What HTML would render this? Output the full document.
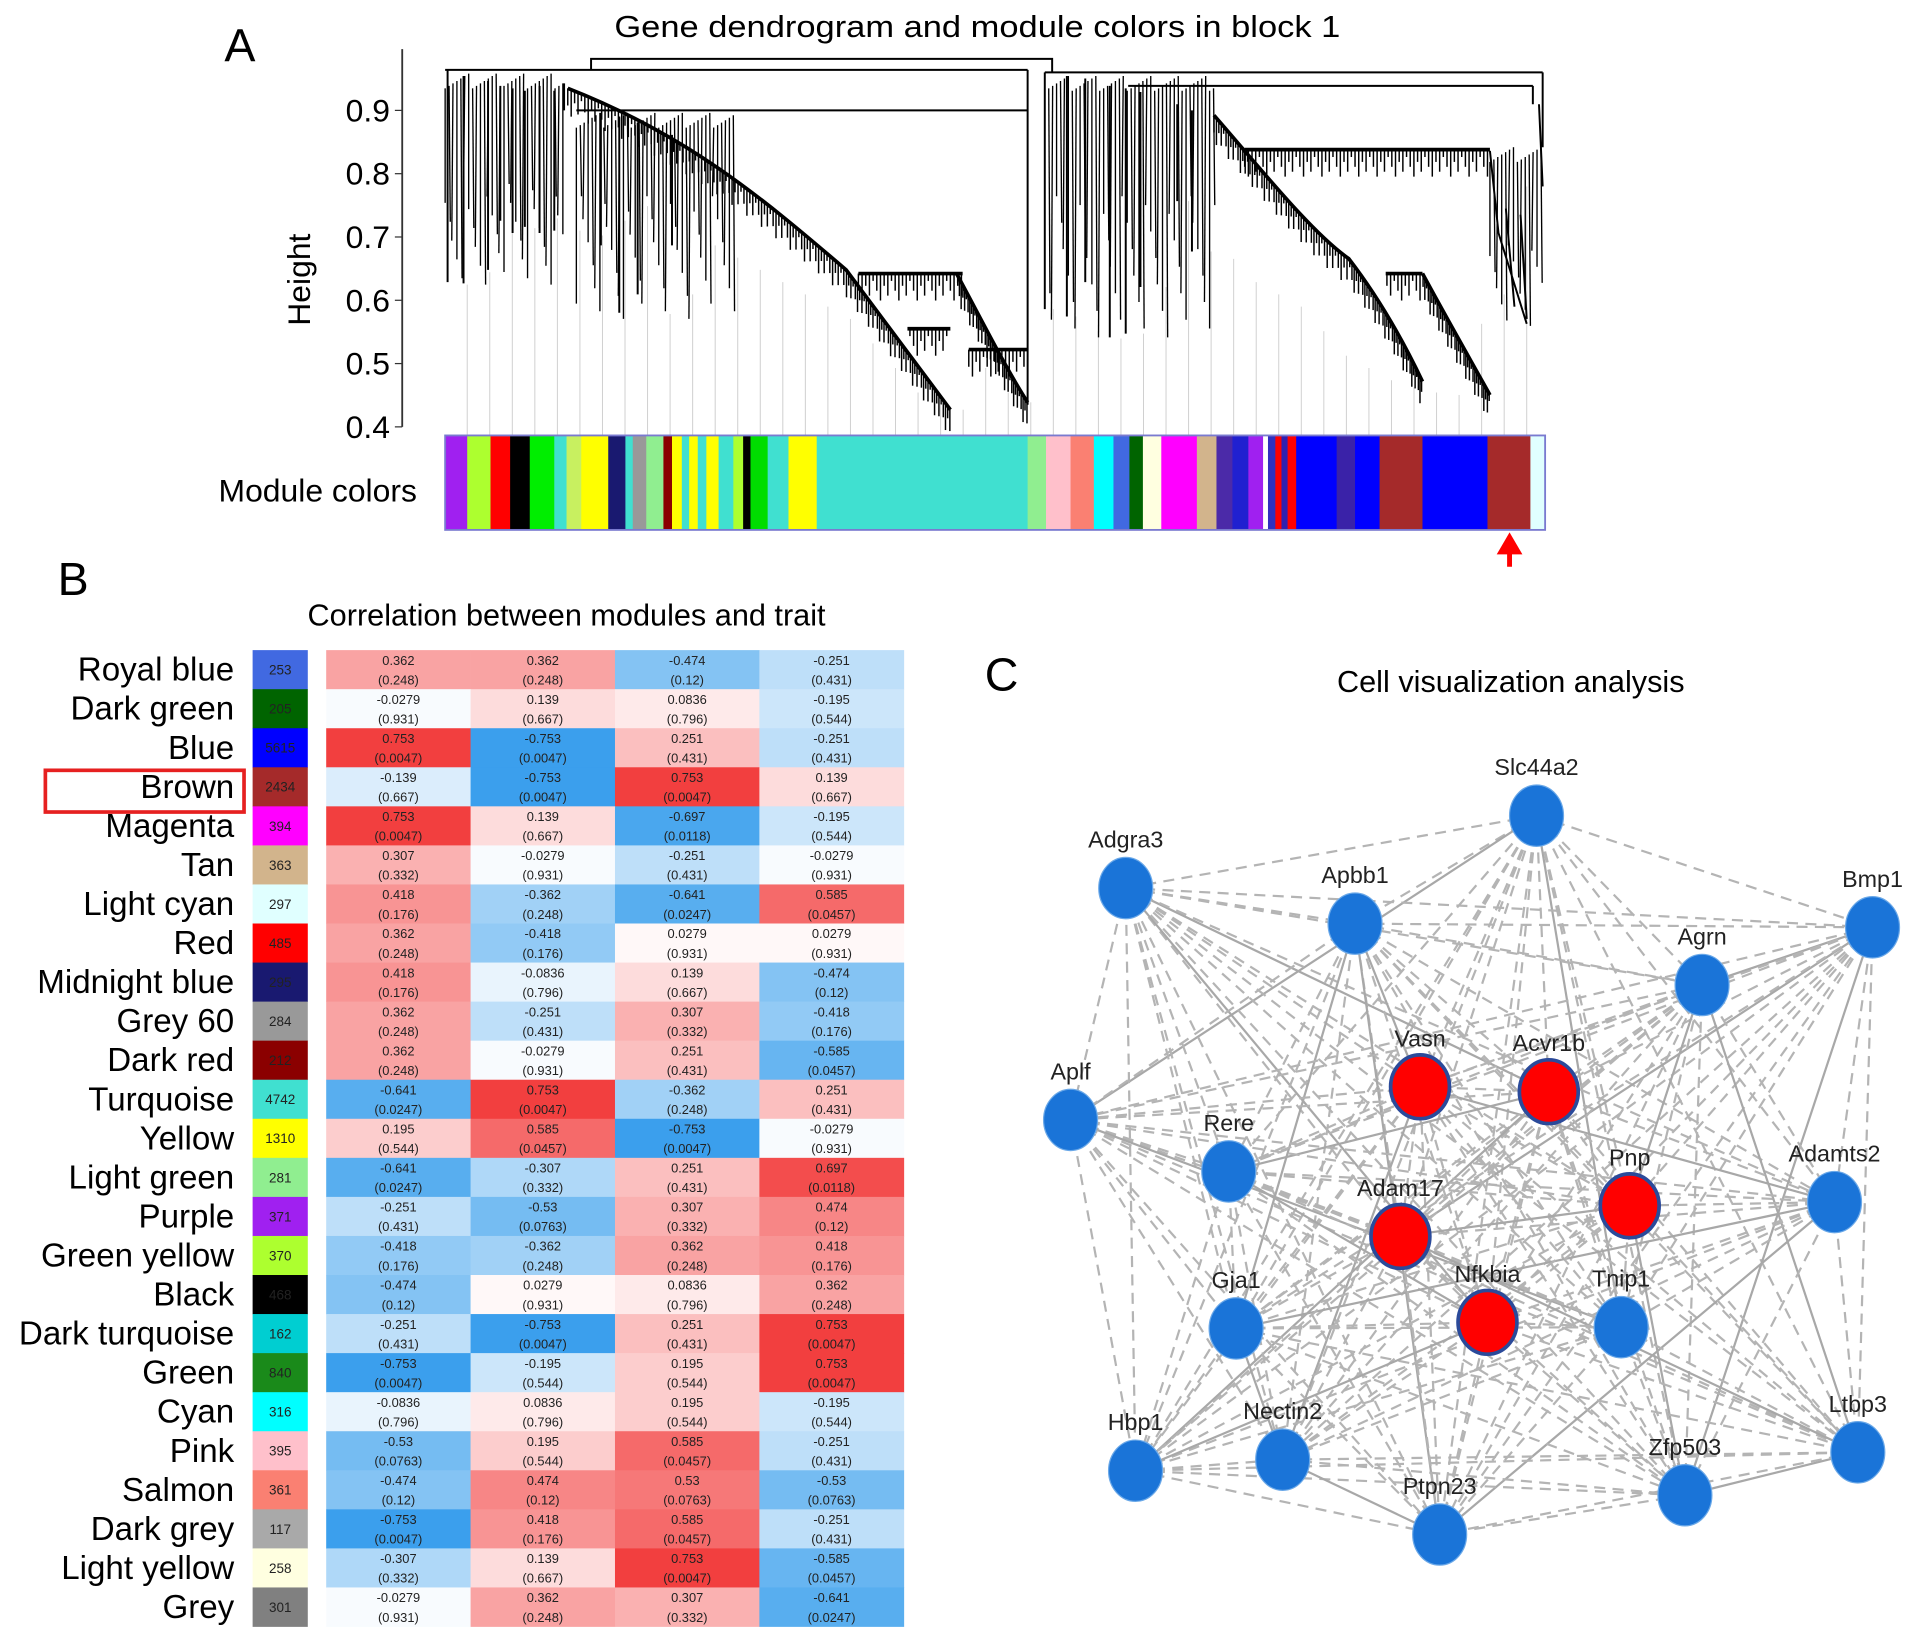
<!DOCTYPE html>
<html><head><meta charset="utf-8"><style>
html,body{margin:0;padding:0;background:#fff;}
svg{display:block;font-family:"Liberation Sans",sans-serif;}
</style></head><body>
<svg id="fig" xmlns="http://www.w3.org/2000/svg" width="1913" height="1640" viewBox="0 0 1560 1337" preserveAspectRatio="none">
<rect width="1560" height="1337" fill="#fff"/>
<text x="183" y="50" font-size="38">A</text>
<text x="797" y="30" font-size="25" text-anchor="middle" textLength="592" lengthAdjust="spacingAndGlyphs">Gene dendrogram and module colors in block 1</text>
<text x="0" y="0" font-size="26" text-anchor="middle" transform="translate(253,228) rotate(-90)">Height</text>
<text x="340" y="409" font-size="26" text-anchor="end">Module colors</text>
<g id="dendro"></g>
<g id="colorbar"></g>
<path d="M1231 462 L1231 448 M1224 450 L1231 438 L1238 450 Z" stroke="#f00" stroke-width="4" fill="#f00"/>
<text x="47" y="485" font-size="38">B</text>
<text x="462" y="510" font-size="25" text-anchor="middle">Correlation between modules and trait</text>
<g id="heat"></g>
<rect x="37" y="628" width="162" height="34" fill="none" stroke="#e62020" stroke-width="3"/>
<text x="803" y="563" font-size="38">C</text>
<text x="1232" y="564" font-size="25" text-anchor="middle">Cell visualization analysis</text>
<g id="net"></g>
</svg>
<script>
const NS='http://www.w3.org/2000/svg';
function mk(tag,parent){const e=document.createElementNS(NS,tag);parent.appendChild(e);return e;}

// ---------- Panel A data ----------
const heightTicks=[0.4,0.5,0.6,0.7,0.8,0.9];
const barSegColors=['#a020f0','#adff2f','#ff0000','#000000','#00ee00','#40e0d0','#c8f060','#ffff00','#191970','#40e0d0','#999999','#90ee90','#8b0000','#ffff00','#40e0d0','#ffff00','#40e0d0','#ffff00','#40e0d0','#adff2f','#000000','#00dd00','#40e0d0','#ffff00','#40e0d0','#90ee90','#ffc0cb','#fa8072','#00ffff','#4169e1','#006400','#ffffe0','#ff00ff','#d2b48c','#4b2aa8','#2020d0','#a020f0','#ffffff','#3030c0','#ff0000','#3020b0','#ff0000','#0000ff','#3a22a8','#0000ff','#a52a2a','#0000ff','#a52a2a','#e0ffff'];
const barSegEnds=[381,400,416,432,452,462,474,496,510,516,527,541,548,556,562,569,576,586,598,606,612,626,643,666,838,853,873,892,908,921,932,947,976,992,1005,1018,1030,1034,1040,1045,1050,1057,1090,1105,1125,1160,1213,1248,1260];
const leafTops=[232,222,190,186,178,188,192,180,168,256,240,200,210,220,230,240,250,260,280,300,320,330,334,300,320,328,252,258,270,276,272,234,164,205,211,230,240,250,270,290,300,310,316,320,322,264,240,152];
// dense strand clusters: [xStart, xEnd, top, bottom-min, bottom-max]
const strandClusters=[[363,462,60,150,232],[470,600,92,160,260],[852,992,62,160,275],[1215,1258,120,200,270]];

const yH=v=>348-(v-0.4)*516;
const dG=document.getElementById('dendro');
let ax=mk('line',dG);ax.setAttribute('x1',328);ax.setAttribute('x2',328);ax.setAttribute('y1',40);ax.setAttribute('y2',348);ax.setAttribute('stroke','#333');ax.setAttribute('stroke-width',1.5);


heightTicks.forEach(v=>{
 const t=mk('line',dG);t.setAttribute('x1',322);t.setAttribute('x2',328);t.setAttribute('y1',yH(v));t.setAttribute('y2',yH(v));t.setAttribute('stroke','#333');
 
 
 const l=mk('text',dG);l.setAttribute('x',318);l.setAttribute('y',yH(v)+9);l.setAttribute('font-size',26);l.setAttribute('text-anchor','end');l.textContent=v.toFixed(1);
 
 
});
leafTops.forEach((top,i)=>{
 const x=381+i*(1245-381)/(leafTops.length-1);
 const l=mk('line',dG);l.setAttribute('x1',x);l.setAttribute('x2',x);l.setAttribute('y1',top);l.setAttribute('y2',355);l.setAttribute('stroke','#cfcfcf');l.setAttribute('stroke-width',0.8);
 
 
});
// dense strands
strandClusters.forEach((c,ci)=>{
 let k=0;
 for(let x=c[0];x<=c[1];x+=3.2){
  k++;
  const frac=((k*37+ci*11)%17)/16;
  const bot=c[3]+frac*(c[4]-c[3]);
  const top=c[2]+((k*13)%7)*2;
  const l=mk('line',dG);l.setAttribute('x1',x);l.setAttribute('x2',x+((k%3)-1));l.setAttribute('y1',top);l.setAttribute('y2',bot);l.setAttribute('stroke','#000');l.setAttribute('stroke-width',1.1);
  
  
 }
});
const branchPaths=[
 'M482 57 L482 48 L858 48 L858 59',
 'M363 57 L838 57 M852 59 L1258 59',
 'M365 57 L365 230 M378 62 L378 231 M398 66 L398 220 M408 70 L408 180 M418 72 L418 190 M428 74 L428 185 M440 70 L440 190 M452 74 L452 188 M460 68 L460 90',
 'M470 90 L838 90 M838 57 L838 330 M490 92 L490 200 M505 95 L505 255 M520 100 L520 240 M548 110 L548 200',
 'M463 72 C560 110 620 160 690 220 C720 260 750 300 775 334',
 'M700 223 L785 223 M780 223 C800 260 820 300 838 328 M740 268 L775 268 M790 285 L838 285',
 'M852 59 L852 252 M870 62 L870 258 M885 64 L885 230 M905 70 L905 275 M918 72 L918 272 M920 70 L1250 70 M930 75 L930 234 M960 85 L960 164 M972 90 L972 205',
 'M990 94 C1030 140 1070 190 1100 211 C1130 250 1150 290 1160 311',
 'M1015 122 L1215 122 M1130 223 L1160 223 M1160 223 C1180 260 1200 295 1215 322',
 'M1215 123 L1222 190 L1245 264 M1228 170 L1235 250 M1240 175 L1245 260 M1250 70 L1250 85 M1255 85 L1258 152 M1258 59 L1258 120'
];
const ramps=[4,5,7,8];
branchPaths.forEach((d,i)=>{
 const p=mk('path',dG);p.setAttribute('d',d);p.setAttribute('fill','none');p.setAttribute('stroke','#000');p.setAttribute('stroke-width',ramps.includes(i)?3:1.6);
 
 
 if(ramps.includes(i)){
  const L=p.getTotalLength();let k=0;
  for(let s=0;s<L;s+=3){
   k++;
   const pt=p.getPointAtLength(s);
   if(pt.y<60)continue;
   const len=6+((k*7)%5)*4;
   const f=mk('line',dG);f.setAttribute('x1',pt.x);f.setAttribute('x2',pt.x);f.setAttribute('y1',pt.y);f.setAttribute('y2',pt.y+len);f.setAttribute('stroke','#000');f.setAttribute('stroke-width',1.2);
   
   
  }
 }
});
const cb=document.getElementById('colorbar');
let prev=363;
barSegColors.forEach((c,i)=>{
 const r=mk('rect',cb);r.setAttribute('x',prev);r.setAttribute('y',355);r.setAttribute('width',barSegEnds[i]-prev+0.5);r.setAttribute('height',77);r.setAttribute('fill',c);
 
 
 prev=barSegEnds[i];
});
const cbo=mk('rect',cb);cbo.setAttribute('x',363);cbo.setAttribute('y',355);cbo.setAttribute('width',897);cbo.setAttribute('height',77);cbo.setAttribute('fill','none');cbo.setAttribute('stroke','#7a7ad0');cbo.setAttribute('stroke-width',1.5);



// ---------- Panel B data ----------
const moduleNames=['Royal blue','Dark green','Blue','Brown','Magenta','Tan','Light cyan','Red','Midnight blue','Grey 60','Dark red','Turquoise','Yellow','Light green','Purple','Green yellow','Black','Dark turquoise','Green','Cyan','Pink','Salmon','Dark grey','Light yellow','Grey'];
const moduleColors=['#4169e1','#006400','#0000ff','#a52a2a','#ff00ff','#d2b48c','#e0ffff','#ff0000','#191970','#999999','#8b0000','#40e0d0','#ffff00','#90ee90','#a020f0','#adff2f','#000000','#00ced1','#1a8a1a','#00ffff','#ffc0cb','#fa8072','#a9a9a9','#ffffe0','#808080'];
const moduleSizes=['253','205','5615','2434','394','363','297','485','295','284','212','4742','1310','281','371','370','468','162','840','316','395','361','117','258','301'];
const corrCol1=[0.362,-0.0279,0.753,-0.139,0.753,0.307,0.418,0.362,0.418,0.362,0.362,-0.641,0.195,-0.641,-0.251,-0.418,-0.474,-0.251,-0.753,-0.0836,-0.53,-0.474,-0.753,-0.307,-0.0279];
const corrCol2=[0.362,0.139,-0.753,-0.753,0.139,-0.0279,-0.362,-0.418,-0.0836,-0.251,-0.0279,0.753,0.585,-0.307,-0.53,-0.362,0.0279,-0.753,-0.195,0.0836,0.195,0.474,0.418,0.139,0.362];
const corrCol3=[-0.474,0.0836,0.251,0.753,-0.697,-0.251,-0.641,0.0279,0.139,0.307,0.251,-0.362,-0.753,0.251,0.307,0.362,0.0836,0.251,0.195,0.195,0.585,0.53,0.585,0.753,0.307];
const corrCol4=[-0.251,-0.195,-0.251,0.139,-0.195,-0.0279,0.585,0.0279,-0.474,-0.418,-0.585,0.251,-0.0279,0.697,0.474,0.418,0.362,0.753,0.753,-0.195,-0.251,-0.53,-0.251,-0.585,-0.641];
const pvalCol1=['0.248','0.931','0.0047','0.667','0.0047','0.332','0.176','0.248','0.176','0.248','0.248','0.0247','0.544','0.0247','0.431','0.176','0.12','0.431','0.0047','0.796','0.0763','0.12','0.0047','0.332','0.931'];
const pvalCol2=['0.248','0.667','0.0047','0.0047','0.667','0.931','0.248','0.176','0.796','0.431','0.931','0.0047','0.0457','0.332','0.0763','0.248','0.931','0.0047','0.544','0.796','0.544','0.12','0.176','0.667','0.248'];
const pvalCol3=['0.12','0.796','0.431','0.0047','0.0118','0.431','0.0247','0.931','0.667','0.332','0.431','0.248','0.0047','0.431','0.332','0.248','0.796','0.431','0.544','0.544','0.0457','0.0763','0.0457','0.0047','0.332'];
const pvalCol4=['0.431','0.544','0.431','0.667','0.544','0.931','0.0457','0.931','0.12','0.176','0.0457','0.431','0.931','0.0118','0.12','0.176','0.248','0.0047','0.0047','0.544','0.431','0.0763','0.431','0.0457','0.0247'];

const hG=document.getElementById('heat');
const rowTop=530,rowH=(1326-530)/25,hx0=266,colW=(737-266)/4;
const cols=[corrCol1,corrCol2,corrCol3,corrCol4],pcols=[pvalCol1,pvalCol2,pvalCol3,pvalCol4];
function heatColor(v){
 const t=Math.min(Math.abs(v)/0.78,1);
 const end=v>=0?[242,56,56]:[52,156,236];
 const c=end.map(e=>Math.round(255+(e-255)*t));
 return `rgb(${c[0]},${c[1]},${c[2]})`;
}
moduleNames.forEach((name,i)=>{
 const y=rowTop+i*rowH;
 const lab=mk('text',hG);lab.setAttribute('x',191);lab.setAttribute('y',y+rowH/2+9);lab.setAttribute('font-size',27);lab.setAttribute('text-anchor','end');lab.textContent=name;
 
 
 const sw=mk('rect',hG);sw.setAttribute('x',206);sw.setAttribute('y',y);sw.setAttribute('width',45);sw.setAttribute('height',rowH+0.3);sw.setAttribute('fill',moduleColors[i]);
 
 
 const n=mk('text',hG);n.setAttribute('x',228.5);n.setAttribute('y',y+rowH/2+4);n.setAttribute('font-size',11);n.setAttribute('text-anchor','middle');n.setAttribute('fill','#222');n.textContent=moduleSizes[i];
 
 
 cols.forEach((col,j)=>{
  const x=hx0+j*colW;
  const c=mk('rect',hG);c.setAttribute('x',x);c.setAttribute('y',y);c.setAttribute('width',colW+0.3);c.setAttribute('height',rowH+0.3);c.setAttribute('fill',heatColor(col[i]));
  
  
  const t1=mk('text',hG);t1.setAttribute('x',x+colW/2);t1.setAttribute('y',y+12);t1.setAttribute('font-size',10.5);t1.setAttribute('text-anchor','middle');t1.setAttribute('fill','#222');t1.textContent=String(col[i]);
  
  
  const t2=mk('text',hG);t2.setAttribute('x',x+colW/2);t2.setAttribute('y',y+28);t2.setAttribute('font-size',10.5);t2.setAttribute('text-anchor','middle');t2.setAttribute('fill','#222');t2.textContent='('+pcols[j][i]+')';
  
  
 });
});

// ---------- Panel C data ----------
const nodeNames=['Slc44a2','Adgra3','Apbb1','Bmp1','Agrn','Vasn','Acvr1b','Aplf','Rere','Adamts2','Pnp','Adam17','Gja1','Nfkbia','Tnip1','Hbp1','Nectin2','Ltbp3','Zfp503','Ptpn23'];
const nodeX=[1253,918,1105,1527,1388,1158,1263,873,1002,1496,1329,1142,1008,1213,1322,926,1046,1515,1374,1174];
const nodeY=[665,724,753,756,803,886,890,913,955,980,983,1008,1083,1078,1082,1199,1190,1184,1219,1251];
const nodeHub=[0,0,0,0,0,1,1,0,0,0,1,1,0,1,0,0,0,0,0,0];
const nG=document.getElementById('net');
for(let a=0;a<nodeNames.length;a++){for(let b=a+1;b<nodeNames.length;b++){
 const e=mk('line',nG);e.setAttribute('x1',nodeX[a]);e.setAttribute('y1',nodeY[a]);e.setAttribute('x2',nodeX[b]);e.setAttribute('y2',nodeY[b]);
 e.setAttribute('stroke',(a+b)%7===0?'#a8a8a8':'#b4b4b4');e.setAttribute('stroke-width',1.8);
 if((a+b)%7!==0)e.setAttribute('stroke-dasharray','9 6');
 
 
}}
nodeNames.forEach((nm,i)=>{
 const c=mk('ellipse',nG);c.setAttribute('cx',nodeX[i]);c.setAttribute('cy',nodeY[i]);
 c.setAttribute('rx',nodeHub[i]?24:22);c.setAttribute('ry',nodeHub[i]?26:25);
 c.setAttribute('fill',nodeHub[i]?'#ff0000':'#1a74d8');
 c.setAttribute('stroke',nodeHub[i]?'#2b4a9a':'#6aa8e8');c.setAttribute('stroke-width',nodeHub[i]?3:1);
 
 
 const t=mk('text',nG);t.setAttribute('x',nodeX[i]);t.setAttribute('y',nodeY[i]-33);t.setAttribute('font-size',19);t.setAttribute('text-anchor','middle');t.setAttribute('fill','#222');t.textContent=nm;
 
 
});
</script>
</body></html>
